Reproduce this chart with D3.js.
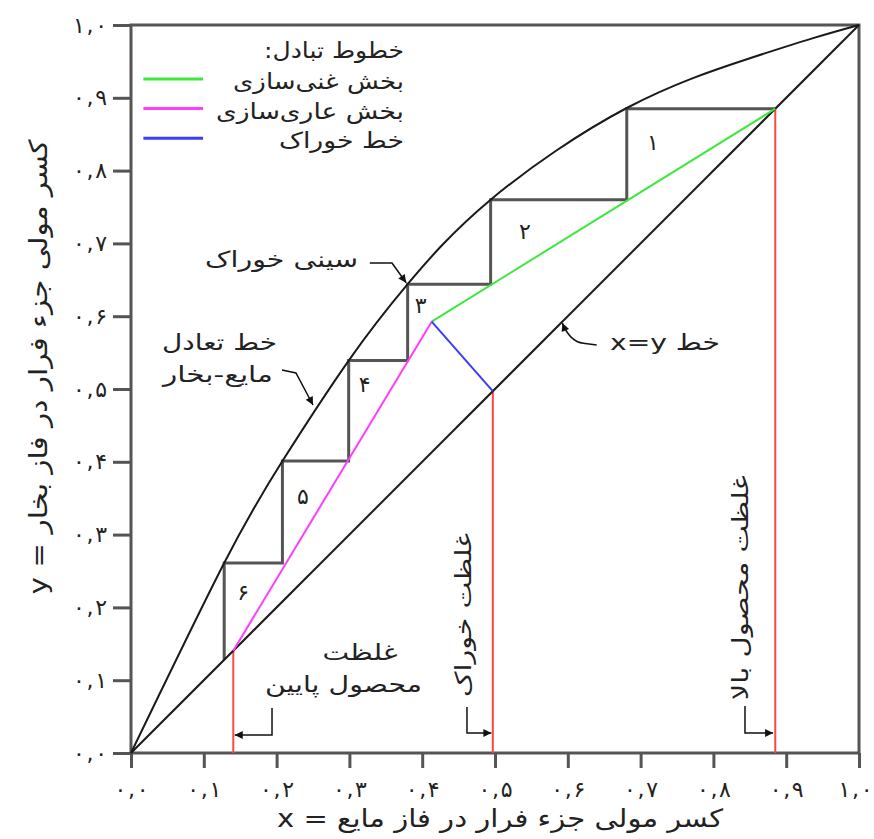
<!DOCTYPE html>
<html>
<head>
<meta charset="utf-8">
<script src="https://cdn.jsdelivr.net/npm/d3@7"></script>
<style>
  body { margin: 0; background: #fff; }
  text { font-family: "DejaVu Sans", sans-serif; fill: #222; }
</style>
</head>
<body>
<div id="chart"></div>
<script>
// equilibrium curve (x, y)
const eqX = [0, 0.128, 0.208, 0.299, 0.380, 0.494, 0.681, 0.846, 0.937, 1.0];
const eqY = [0, 0.261, 0.401, 0.539, 0.644, 0.760, 0.886, 0.953, 0.982, 1.0];

// McCabe-Thiele stair corners, from the top product down
const stairX = [0.885, 0.681, 0.494, 0.380, 0.299, 0.208, 0.128];
const stairY = [0.885, 0.760, 0.644, 0.539, 0.401, 0.261, 0.128];
const stageLabels = ['۱', '۲', '۳', '۴', '۵', '۶'];

// compositions
const xB = 0.1405, xF = 0.497, xD = 0.885;
// operating lines meet here
const qPoint = { x: 0.413, y: 0.5925 };

const tickValues = [0, 0.1, 0.2, 0.3, 0.4, 0.5, 0.6, 0.7, 0.8, 0.9, 1.0];
const tickLabels = ['۰,۰', '۰,۱', '۰,۲', '۰,۳', '۰,۴', '۰,۵', '۰,۶', '۰,۷', '۰,۸', '۰,۹', '۱,۰'];

const legendTitle = 'خطوط تبادل:';
const legendNames = ['بخش غنی‌سازی', 'بخش عاری‌سازی', 'خط خوراک'];
const legendColors = ['#3de83d', '#ff3cff', '#3c3cff'];

const margin = { top: 25, left: 131 };
const size = 728;

const svg = d3.select('#chart').append('svg')
  .attr('width', 874).attr('height', 839);

svg.append('defs').append('marker')
  .attr('id', 'arrow')
  .attr('viewBox', '0 0 10 10')
  .attr('refX', 10).attr('refY', 5)
  .attr('markerWidth', 12).attr('markerHeight', 8)
  .attr('markerUnits', 'userSpaceOnUse')
  .attr('orient', 'auto')
  .append('path').attr('d', 'M0,0 L10,5 L0,10 Z').attr('fill', '#111');

const g = svg.append('g').attr('transform', `translate(${margin.left},${margin.top})`);

const x = d3.scaleLinear().domain([0, 1]).range([0, size]);
const y = d3.scaleLinear().domain([0, 1]).range([size, 0]);

// axes
const xAxis = g.append('g')
  .attr('transform', `translate(0,${size})`)
  .call(d3.axisBottom(x).tickValues(tickValues).tickSize(15).tickPadding(13)
    .tickFormat((d, i) => tickLabels[i]));
const yAxis = g.append('g')
  .call(d3.axisLeft(y).tickValues(tickValues).tickSize(18).tickPadding(6)
    .tickFormat((d, i) => tickLabels[i]));
[xAxis, yAxis].forEach(a => {
  a.select('.domain').remove();
  a.selectAll('line').attr('stroke', '#555').attr('stroke-width', 3);
  a.selectAll('text').style('font-size', '22px').attr('fill', '#222')
    .attr('textLength', 34).attr('lengthAdjust', 'spacing');
});
// last x label sits on the page edge, pull it in a little
xAxis.selectAll('.tick:last-of-type text').attr('dx', -4);

// frame
g.append('rect')
  .attr('x', x(0)).attr('y', y(1))
  .attr('width', x(1) - x(0)).attr('height', y(0) - y(1))
  .attr('fill', 'none').attr('stroke', '#555').attr('stroke-width', 3);

// red composition lines
g.selectAll('.comp').data([xB, xF, xD]).enter().append('line')
  .attr('x1', d => x(d)).attr('x2', d => x(d))
  .attr('y1', y(0)).attr('y2', d => y(d))
  .attr('stroke', '#ff4545').attr('stroke-width', 2);

// stages
const stairPts = [];
stairX.forEach((sx, i) => {
  if (i === 0) { stairPts.push([sx, stairY[0]]); return; }
  stairPts.push([sx, stairY[i - 1]]);
  stairPts.push([sx, stairY[i]]);
});
g.append('path')
  .datum(stairPts)
  .attr('d', d3.line().x(d => x(d[0])).y(d => y(d[1])))
  .attr('fill', 'none').attr('stroke', '#555').attr('stroke-width', 3);

// x = y line
g.append('path')
  .datum([[0, 0], [1, 1]])
  .attr('d', d3.line().x(d => x(d[0])).y(d => y(d[1])))
  .attr('fill', 'none').attr('stroke', '#1a1a1a').attr('stroke-width', 2);

// equilibrium curve
g.append('path')
  .datum(eqX.map((d, i) => [d, eqY[i]]))
  .attr('d', d3.line().x(d => x(d[0])).y(d => y(d[1])).curve(d3.curveNatural))
  .attr('fill', 'none').attr('stroke', '#1a1a1a').attr('stroke-width', 2);

// operating lines
const opLines = [
  [[qPoint.x, qPoint.y], [xD, xD]],
  [[xB, xB], [qPoint.x, qPoint.y]],
  [[xF, xF], [qPoint.x, qPoint.y]]
];
g.selectAll('.op').data(opLines).enter().append('path')
  .attr('d', d3.line().x(d => x(d[0])).y(d => y(d[1])))
  .attr('fill', 'none')
  .attr('stroke', (d, i) => legendColors[i]).attr('stroke-width', 2);

// stage numbers
const stageLabelPos = [[0.717, 0.839], [0.541, 0.716], [0.398, 0.615], [0.321, 0.5055], [0.236, 0.352], [0.154, 0.2198]];
g.selectAll('.stage').data(stageLabels).enter().append('text')
  .attr('x', (d, i) => x(stageLabelPos[i][0]))
  .attr('y', (d, i) => y(stageLabelPos[i][1]))
  .attr('text-anchor', 'middle').attr('dominant-baseline', 'central')
  .style('font-size', '22px').text(d => d);

// text helper: rtl text stretched to the width it has in the picture
function label(px, py, str, anchor, len, fs, rot) {
  const t = g.append('text')
    .attr('direction', 'rtl').attr('text-anchor', anchor)
    .style('font-size', (fs || 22) + 'px')
    .attr('textLength', len).attr('lengthAdjust', 'spacingAndGlyphs')
    .text(str);
  if (rot) t.attr('transform', `translate(${px},${py}) rotate(-90)`);
  else t.attr('x', px).attr('y', py);
  return t;
}

// legend
label(x(0.375), 33, legendTitle, 'start', 140);
const legendLen = [171, 188, 125];
legendNames.forEach((name, i) => {
  const ly = y(0.9258 - i * 0.0406);
  g.append('line')
    .attr('x1', x(0.017)).attr('x2', x(0.099))
    .attr('y1', ly).attr('y2', ly)
    .attr('stroke', legendColors[i]).attr('stroke-width', 3);
  label(x(0.375), ly + 10, name, 'start', legendLen[i]);
});

// leaders
function leader(pts) {
  g.append('path')
    .datum(pts)
    .attr('d', d3.line().x(d => x(d[0])).y(d => y(d[1])))
    .attr('fill', 'none').attr('stroke', '#111').attr('stroke-width', 1.5)
    .attr('marker-end', 'url(#arrow)');
}

// feed stage
label(x(0.312), y(0.667), 'سینی خوراک', 'start', 153);
leader([[0.328, 0.673], [0.3585, 0.673], [0.378, 0.646]]);

// equilibrium line
label(x(0.2005), y(0.553), 'خط تعادل', 'start', 115);
label(x(0.195), y(0.510), 'مایع-بخار', 'start', 110);
leader([[0.2074, 0.526], [0.2266, 0.522], [0.25, 0.478]]);

// x = y
label(x(0.7335), y(0.553), 'خط x=y', 'middle', 110);
g.append('path')
  .attr('d', `M${x(0.6397)},${y(0.5604)} L${x(0.6213)},${y(0.5628)} Q${x(0.603)},${y(0.565)} ${x(0.5925)},${y(0.5905)}`)
  .attr('fill', 'none').attr('stroke', '#111').attr('stroke-width', 1.5)
  .attr('marker-end', 'url(#arrow)');

// bottom product
label(x(0.3146), y(0.1277), 'غلظت', 'middle', 75);
label(x(0.2918), y(0.0835), 'محصول پایین', 'middle', 157);
leader([[0.1937, 0.0618], [0.1937, 0.0247], [xB + 0.002, 0.0247]]);

// feed composition
label(x(0.4665), y(0.1896), 'غلظت خوراک', 'middle', 164, 22, true);
leader([[0.4615, 0.0632], [0.4615, 0.0275], [xF - 0.002, 0.0275]]);

// top product
label(x(0.8475), y(0.227), 'غلظت محصول بالا', 'middle', 225, 22, true);
leader([[0.8434, 0.0646], [0.8434, 0.0275], [xD - 0.003, 0.0275]]);

// axis titles
svg.append('text')
  .attr('x', 500).attr('y', 827)
  .attr('direction', 'rtl').attr('text-anchor', 'middle')
  .attr('textLength', 446).attr('lengthAdjust', 'spacingAndGlyphs')
  .style('font-size', '25px').text('کسر مولی جزء فرار در فاز مایع = x');
svg.append('text')
  .attr('transform', 'translate(47,367) rotate(-90)')
  .attr('direction', 'rtl').attr('text-anchor', 'middle')
  .attr('textLength', 455).attr('lengthAdjust', 'spacingAndGlyphs')
  .style('font-size', '25px').text('کسر مولی جزء فرار در فاز بخار = y');
</script>
</body>
</html>
